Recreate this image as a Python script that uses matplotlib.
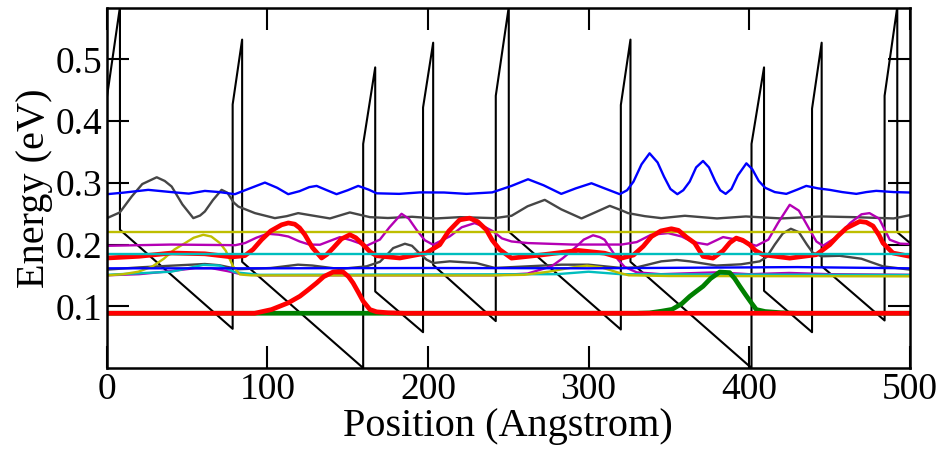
import matplotlib
matplotlib.use("Agg")
import matplotlib.pyplot as plt

# conduction band profile (Angstrom, eV)
band_x = [0, 8.1, 8.1, 78.3, 78.3, 84.2, 84.2, 159.6, 159.6, 167.1, 167.1, 196.9, 196.9, 203.2,
          203.2, 242.2, 242.2, 250.3, 250.3, 320.1, 320.1, 326.1, 326.1, 401.5, 401.5, 409.3,
          409.3, 439.2, 439.2, 445.2, 445.2, 484.4, 484.4, 492.3, 492.3, 500]
band_e = [0.439, 0.585, 0.224, 0.0635, 0.427, 0.532, 0.172, 0.0, 0.363, 0.487, 0.124, 0.058,
          0.422, 0.527, 0.167, 0.076, 0.441, 0.585, 0.221, 0.0624, 0.426, 0.532, 0.172, 0.0,
          0.363, 0.487, 0.125, 0.058, 0.42, 0.527, 0.165, 0.077, 0.441, 0.585, 0.22, 0.203]

# upper blue state
blue_hi_x = [0, 10, 25.7, 40, 51, 61, 70, 79.7, 88, 98.4, 106, 112.9, 120, 126, 130.6, 137, 143,
             150, 156.5, 163, 168, 182, 195, 210, 224, 240, 252, 262.3, 272, 283, 292, 301.8,
             310, 319.4, 324, 328, 333, 338, 343, 347, 351, 355.3, 359, 363, 367, 371.3, 375,
             379, 382, 385.4, 389, 393, 398.3, 402, 406, 410, 416, 423.2, 430, 435.6, 443,
             450.2, 458, 466.8, 473, 479.2, 490, 500]
blue_hi_e = [0.2816, 0.284, 0.2886, 0.285, 0.2825, 0.2869, 0.285, 0.2816, 0.29, 0.3004, 0.292,
             0.2816, 0.2865, 0.293, 0.295, 0.288, 0.2816, 0.288, 0.295, 0.289, 0.283, 0.2821,
             0.2845, 0.2843, 0.2821, 0.2845, 0.295, 0.3058, 0.296, 0.2821, 0.291, 0.2993, 0.291,
             0.2816, 0.288, 0.302, 0.330, 0.3478, 0.333, 0.31, 0.290, 0.2816, 0.288, 0.302, 0.325,
             0.3354, 0.325, 0.302, 0.288, 0.2821, 0.290, 0.312, 0.3316, 0.322, 0.303, 0.292,
             0.285, 0.2821, 0.289, 0.295, 0.291, 0.2886, 0.285, 0.2821, 0.285, 0.287, 0.285, 0.2843]

# upper gray state
gray_hi_x = [0, 8, 15.4, 22, 31, 36, 40.3, 47, 53.8, 58, 61, 66, 71.4, 75, 79, 81.8, 92.2, 104.6,
             112, 119.1, 128, 138.9, 151.3, 163.8, 175, 190, 205, 220, 241.6, 252, 262, 272.7,
             283, 295.6, 304, 313.2, 320, 324.6, 335, 345.3, 360, 380, 398, 420, 445, 465, 490, 500]
gray_hi_e = [0.2428, 0.252, 0.2778, 0.298, 0.309, 0.303, 0.294, 0.265, 0.2428, 0.247, 0.2536,
             0.272, 0.2886, 0.284, 0.268, 0.2616, 0.2509, 0.2428, 0.246, 0.2509, 0.247, 0.2423,
             0.252, 0.2444, 0.243, 0.245, 0.2423, 0.2444, 0.2428, 0.2466, 0.262, 0.2724, 0.257,
             0.2423, 0.252, 0.2627, 0.256, 0.2509, 0.246, 0.2428, 0.2466, 0.2423, 0.2455, 0.2423,
             0.2455, 0.2444, 0.2423, 0.2475]

# flat levels
yellow_flat_x = [0, 500]
yellow_flat_e = [0.2202, 0.2202]
cyan_flat_x = [0, 500]
cyan_flat_e = [0.184, 0.184]

# upper magenta state
mag_hi_x = [0, 40, 80, 86, 93, 100, 107, 113, 120, 126, 132.7, 139, 145.1, 152, 161.7, 170, 176,
            183.5, 188, 192.8, 198, 203.2, 213.5, 221, 229, 235, 240.6, 246, 252, 262.3, 290,
            320.5, 330, 339, 349.6, 358, 365, 374, 383.8, 392, 404.5, 412, 418, 425.3, 431, 436,
            441.9, 446, 455, 463, 470, 475, 481, 487.6, 494, 500]
mag_hi_e = [0.198, 0.200, 0.199, 0.2024, 0.211, 0.2175, 0.216, 0.213, 0.205, 0.2, 0.1997, 0.206,
            0.212, 0.207, 0.198, 0.208, 0.228, 0.2498, 0.242, 0.224, 0.207, 0.1997, 0.2132, 0.228,
            0.2347, 0.229, 0.2213, 0.21, 0.205, 0.2024, 0.200, 0.200, 0.204, 0.2159, 0.2185, 0.213,
            0.204, 0.2, 0.2121, 0.208, 0.198, 0.208, 0.235, 0.2644, 0.255, 0.232, 0.205, 0.198,
            0.213, 0.235, 0.249, 0.2509, 0.242, 0.2078, 0.2015, 0.2008]

# middle red states
red_mid_x = [0, 20, 40.3, 61, 77.6, 85.9, 91, 96.3, 102, 108.8, 113, 117, 120, 123.3, 128, 133.7,
             137, 140.9, 146, 151.3, 155, 159.6, 164, 168, 182.4, 198.9, 207.3, 213, 219.7, 225.9,
             231, 236.3, 240, 244.7, 252, 270, 293.5, 310, 320.5, 328, 334, 339.2, 345, 351.6, 356,
             361, 366.1, 371.3, 377.5, 383.8, 388, 392, 396, 400.4, 404, 408.7, 425.3, 441.9,
             450.2, 455, 460.6, 468.9, 473, 477.2, 481, 483.4, 489.6, 500]
red_mid_e = [0.1782, 0.181, 0.1863, 0.185, 0.18, 0.182, 0.192, 0.2078, 0.222, 0.232, 0.235,
             0.233, 0.227, 0.2159, 0.195, 0.1782, 0.184, 0.1944, 0.209, 0.2159, 0.211, 0.1997,
             0.188, 0.1819, 0.1782, 0.1863, 0.1997, 0.222, 0.24, 0.2428, 0.237, 0.224, 0.207,
             0.1917, 0.178, 0.183, 0.1905, 0.186, 0.178, 0.183, 0.197, 0.213, 0.222, 0.2256,
             0.223, 0.212, 0.2024, 0.1809, 0.178, 0.19, 0.203, 0.2105, 0.207, 0.1997, 0.19,
             0.1835, 0.178, 0.1836, 0.1997, 0.213, 0.2266, 0.2374, 0.236, 0.23, 0.215, 0.2024,
             0.1863, 0.181]

# lower gray state
gray_lo_x = [0, 20, 40.3, 61, 70, 82, 102, 119, 128, 145, 161.7, 170, 175, 178.3, 185.6, 190,
             195, 199.1, 203.2, 213.5, 230, 241.6, 262, 283.1, 300, 320.5, 330, 345.3, 355, 363,
             379.6, 395, 406.6, 411, 416, 421, 426, 431, 436, 439.8, 445, 456.4, 470, 483.4, 500]
gray_lo_e = [0.1594, 0.163, 0.1658, 0.1685, 0.1665, 0.16, 0.162, 0.1674, 0.166, 0.1604, 0.1647,
             0.172, 0.185, 0.1943, 0.2013, 0.198, 0.185, 0.1755, 0.1701, 0.1728, 0.1701, 0.1621,
             0.1647, 0.1674, 0.1674, 0.162, 0.163, 0.1728, 0.175, 0.1728, 0.166, 0.168, 0.1728,
             0.180, 0.200, 0.218, 0.2256, 0.22, 0.2, 0.1863, 0.181, 0.1818, 0.177, 0.1647, 0.1594]

# lower blue state
blue_lo_x = [0, 100, 200, 300, 400, 430, 500]
blue_lo_e = [0.1615, 0.1615, 0.162, 0.1615, 0.163, 0.1635, 0.1615]

# lower magenta state
mag_lo_x = [0, 20, 40, 55, 65, 75, 81.8, 95, 241.6, 262, 276.9, 284, 291.4, 297, 302.8, 307, 310,
            314, 318.4, 322.5, 330, 345, 380, 400, 425, 450, 500]
mag_lo_e = [0.1502, 0.152, 0.157, 0.1618, 0.1618, 0.157, 0.153, 0.1502, 0.1502, 0.153, 0.1647,
            0.178, 0.1944, 0.208, 0.215, 0.212, 0.2078, 0.192, 0.1755, 0.1637, 0.155, 0.152,
            0.155, 0.152, 0.154, 0.152, 0.151]

# lower yellow state
yel_lo_x = [0, 10, 19.5, 28, 35.4, 42, 47.8, 54, 60, 65, 70.4, 74, 78.6, 82.8, 90, 240, 260, 275,
            290, 299, 308, 318, 325, 350, 500]
yel_lo_e = [0.150, 0.152, 0.156, 0.164, 0.177, 0.192, 0.201, 0.211, 0.2158, 0.213, 0.2023, 0.19,
            0.1646, 0.1515, 0.150, 0.150, 0.151, 0.156, 0.163, 0.1658, 0.163, 0.155, 0.1502,
            0.149, 0.1485]

# lower cyan state
cyan_lo_x = [0, 40, 60, 70, 80, 95, 280, 300, 320, 500]
cyan_lo_e = [0.151, 0.156, 0.167, 0.166, 0.155, 0.151, 0.152, 0.156, 0.152, 0.1507]

# ground states
green_lo_x = [0, 330, 338, 345.3, 352, 358, 363, 367, 371.3, 376, 381.7, 387.9, 391, 394.2, 398,
              401.4, 404.5, 410, 420, 430, 500]
green_lo_e = [0.0887, 0.0887, 0.0893, 0.092, 0.095, 0.104, 0.116, 0.124, 0.1324, 0.145, 0.1555,
              0.1545, 0.145, 0.1324, 0.118, 0.1055, 0.0947, 0.0915, 0.0895, 0.0887, 0.0887]
red_lo_x = [0, 92, 102.5, 112.9, 120.2, 125, 130.6, 135, 140.9, 147.1, 150.5, 153.3, 156.5, 159.6,
            163.8, 168, 175, 185, 500]
red_lo_e = [0.0887, 0.0887, 0.0947, 0.1055, 0.1163, 0.126, 0.1378, 0.148, 0.1555, 0.1555, 0.148,
            0.1378, 0.123, 0.1082, 0.0947, 0.091, 0.0895, 0.0887, 0.0887]

plt.rcParams['font.family'] = ['Liberation Serif', 'DejaVu Serif']

fig = plt.figure(figsize=(9.44, 4.51), dpi=100)
ax = fig.add_axes([0.1133, 0.184, 0.8503, 0.798])

thin = 1.7
ax.plot(band_x, band_e, color='black', lw=1.5)
ax.plot(gray_hi_x, gray_hi_e, color='#464646', lw=thin)
ax.plot(gray_lo_x, gray_lo_e, color='#464646', lw=thin)
ax.plot(blue_hi_x, blue_hi_e, color='#0000ff', lw=thin)
ax.plot(mag_lo_x, mag_lo_e, color='#b400b4', lw=thin)
ax.plot(cyan_lo_x, cyan_lo_e, color='#00bebe', lw=thin)
ax.plot(yel_lo_x, yel_lo_e, color='#bebe00', lw=thin)
ax.plot(blue_lo_x, blue_lo_e, color='#0000ff', lw=thin)
ax.plot(mag_hi_x, mag_hi_e, color='#b400b4', lw=thin)
ax.plot(yellow_flat_x, yellow_flat_e, color='#bebe00', lw=thin)
ax.plot(red_mid_x, red_mid_e, color='#ff0000', lw=3.4)
ax.plot(cyan_flat_x, cyan_flat_e, color='#00bebe', lw=thin)
ax.plot(green_lo_x, green_lo_e, color='#008000', lw=3.4)
ax.plot(red_lo_x, red_lo_e, color='#ff0000', lw=3.4)

ax.set_xlim(0, 500)
ax.set_ylim(0, 0.583)
ax.set_xticks([0, 100, 200, 300, 400, 500])
ax.set_yticks([0.1, 0.2, 0.3, 0.4, 0.5])
ax.tick_params(direction='in', length=16, width=1.5, top=True, right=True,
               labelsize=27, pad=3)
for s in ax.spines.values():
    s.set_linewidth(1.8)

ax.set_xlabel('Position (Angstrom)', fontsize=29, labelpad=1)
ax.set_ylabel('Energy (eV)', fontsize=29, labelpad=2)

fig.savefig('out.png', dpi=100)
